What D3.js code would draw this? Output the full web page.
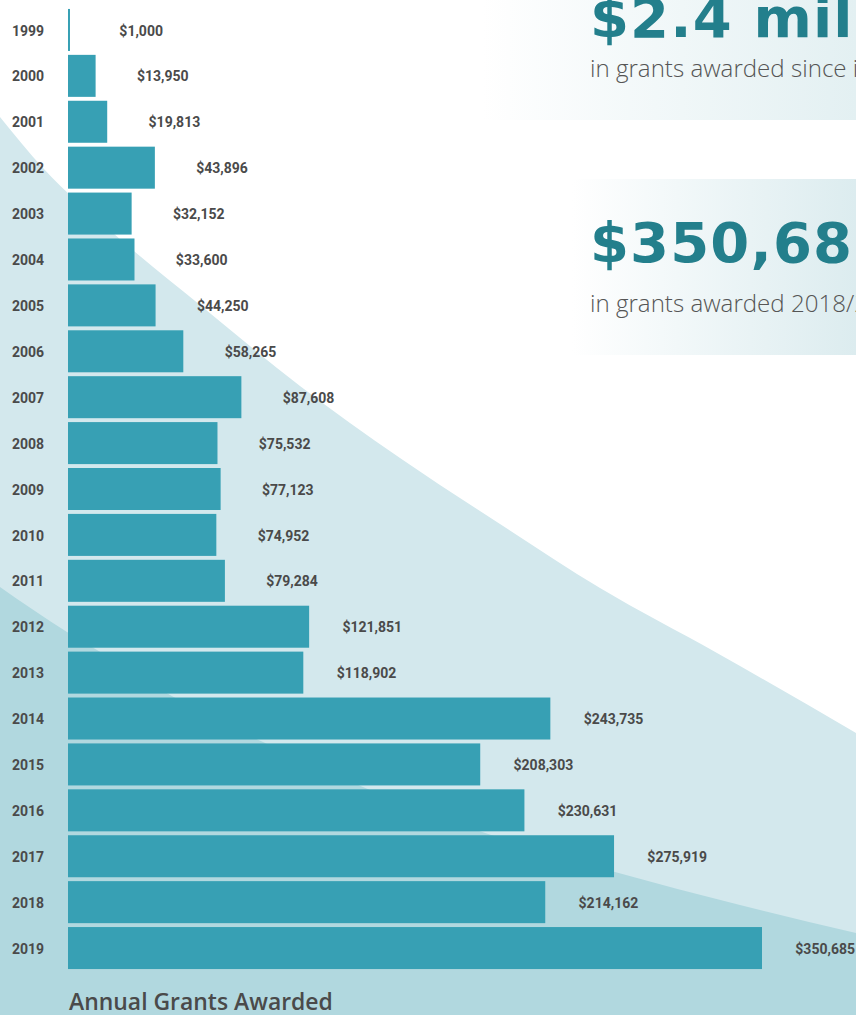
<!DOCTYPE html>
<html>
<head>
<meta charset="utf-8">
<script src="https://cdn.jsdelivr.net/npm/d3@7"></script>
<style>
  html, body { margin: 0; padding: 0; background: #fff; overflow: hidden; }
  svg { display: block; }
</style>
</head>
<body>
<svg id="chart" width="856" height="1015"></svg>
<script>
// ---------- data ----------
const years = ["1999","2000","2001","2002","2003","2004","2005","2006","2007","2008","2009",
               "2010","2011","2012","2013","2014","2015","2016","2017","2018","2019"];
// bar lengths
const grants = [1000, 13950, 19813, 43896, 32152, 33600, 44250, 58265, 87608, 75532, 77123,
                74952, 79284, 121851, 118902, 243735, 208303, 230631, 275919, 241162, 350685];
// labels exactly as printed in the picture
const grantLabels = ["$1,000","$13,950","$19,813","$43,896","$32,152","$33,600","$44,250","$58,265",
                     "$87,608","$75,532","$77,123","$74,952","$79,284","$121,851","$118,902",
                     "$243,735","$208,303","$230,631","$275,919","$214,162","$350,685"];
const headline1 = "$2.4 million";
const subline1 = "in grants awarded since inception";
const headline2 = "$350,685";
const subline2 = "in grants awarded 2018/2019";
const chartTitle = "Annual Grants Awarded";

// ---------- setup ----------
const W = 856, H = 1015;
const svg = d3.select("#chart");
const defs = svg.append("defs");
const labelFont = '"Roboto", sans-serif';
const labelSize = 14;

function measure(str, font) {
  const c = document.createElement("canvas").getContext("2d");
  c.font = font;
  return c.measureText(str).width;
}

// ---------- background decoration ----------
const bgLightEdge = [[0,117],[43,168],[113,233],[200,305],[300,386],[400,458],[500,524],[600,588],[717,653],[856,733]];
const bgDarkEdge  = [[0,587],[67,632],[97,650],[170,695],[263,742],[370,790],[500,838],[615,872],[740,905],[856,933]];
const edge = d3.line().curve(d3.curveMonotoneX);
function regionPath(pts) {
  return edge(pts) + `L${W},${H}L0,${H}Z`;
}
svg.append("path").attr("d", regionPath(bgLightEdge)).attr("fill", "#d3e8ed");
svg.append("path").attr("d", regionPath(bgDarkEdge)).attr("fill", "#b1d8df");

// ---------- headline boxes ----------
const g1 = defs.append("linearGradient").attr("id", "box1").attr("x1", "0").attr("x2", "1").attr("y1", "0").attr("y2", "0");
g1.append("stop").attr("offset", "0").attr("stop-color", "#ffffff");
g1.append("stop").attr("offset", "1").attr("stop-color", "#e3f0f2");
const g2 = defs.append("linearGradient").attr("id", "box2").attr("x1", "0").attr("x2", "1").attr("y1", "0").attr("y2", "0");
g2.append("stop").attr("offset", "0").attr("stop-color", "#ffffff");
g2.append("stop").attr("offset", "1").attr("stop-color", "#dcecef");

svg.append("rect").attr("x", 482).attr("y", 0).attr("width", W - 482).attr("height", 120).attr("fill", "url(#box1)");
svg.append("rect").attr("x", 572).attr("y", 179).attr("width", W - 572).attr("height", 176).attr("fill", "url(#box2)");

// big numbers: fit so that "$350,68" spans ~262px
const bigFontCss = '700 56px "DejaVu Sans"';
const bigW = measure("$350,68", bigFontCss);
const bigSpacing = Math.max(0, (262 - bigW) / 6);
// sub lines: fit "in grants awarded since " to ~263px
const subBase = 20;
const subW = measure("in grants awarded since ", `300 ${subBase}px "Open Sans"`);
const subSize = subBase * 263 / subW;

function bigText(str, yy) {
  svg.append("text").attr("x", 590).attr("y", yy)
    .attr("font-family", '"DejaVu Sans", sans-serif').attr("font-weight", 700).attr("font-size", 56)
    .attr("letter-spacing", bigSpacing)
    .attr("fill", "#237f8c").text(str);
}
function subText(str, yy) {
  svg.append("text").attr("x", 590).attr("y", yy)
    .attr("font-family", '"Open Sans", sans-serif').attr("font-weight", 300).attr("font-size", subSize)
    .attr("fill", "#555555").text(str);
}
bigText(headline1, 37);
subText(subline1, 77);
bigText(headline2, 262);
subText(subline2, 312);

// ---------- bars ----------
const data = years.map((y, i) => ({ year: y, value: grants[i], label: grantLabels[i] }));
const x = d3.scaleLinear().domain([0, 350685]).range([68, 762]);
const y = d3.scaleBand().domain(years).range([7, 971]).paddingInner(0.085).paddingOuter(0.0425);

const rows = svg.append("g").selectAll("g").data(data).join("g");

rows.append("rect")
  .attr("x", x(0))
  .attr("y", d => y(d.year))
  .attr("width", d => x(d.value) - x(0))
  .attr("height", y.bandwidth())
  .attr("fill", "#37a0b4");

rows.append("text")
  .attr("x", 12)
  .attr("y", d => y(d.year) + y.bandwidth() / 2)
  .attr("dy", "0.4em")
  .attr("font-family", labelFont).attr("font-weight", 700).attr("font-size", labelSize)
  .attr("fill", "#4a4a4a")
  .text(d => d.year);

rows.append("text")
  .attr("x", d => x(d.value) + 93)
  .attr("y", d => y(d.year) + y.bandwidth() / 2)
  .attr("dy", "0.4em")
  .attr("text-anchor", "end")
  .attr("font-family", labelFont).attr("font-weight", 700).attr("font-size", labelSize)
  .attr("fill", "#4a4a4a")
  .text(d => d.label);

// ---------- title ----------
const tBase = 20;
const tW = measure(chartTitle, `600 ${tBase}px "Open Sans"`);
const tSize = tBase * 264 / tW;
svg.append("text").attr("x", 69).attr("y", 1010)
  .attr("font-family", '"Open Sans", sans-serif').attr("font-weight", 600).attr("font-size", tSize)
  .attr("fill", "#4a4a4a").text(chartTitle);
</script>
</body>
</html>
